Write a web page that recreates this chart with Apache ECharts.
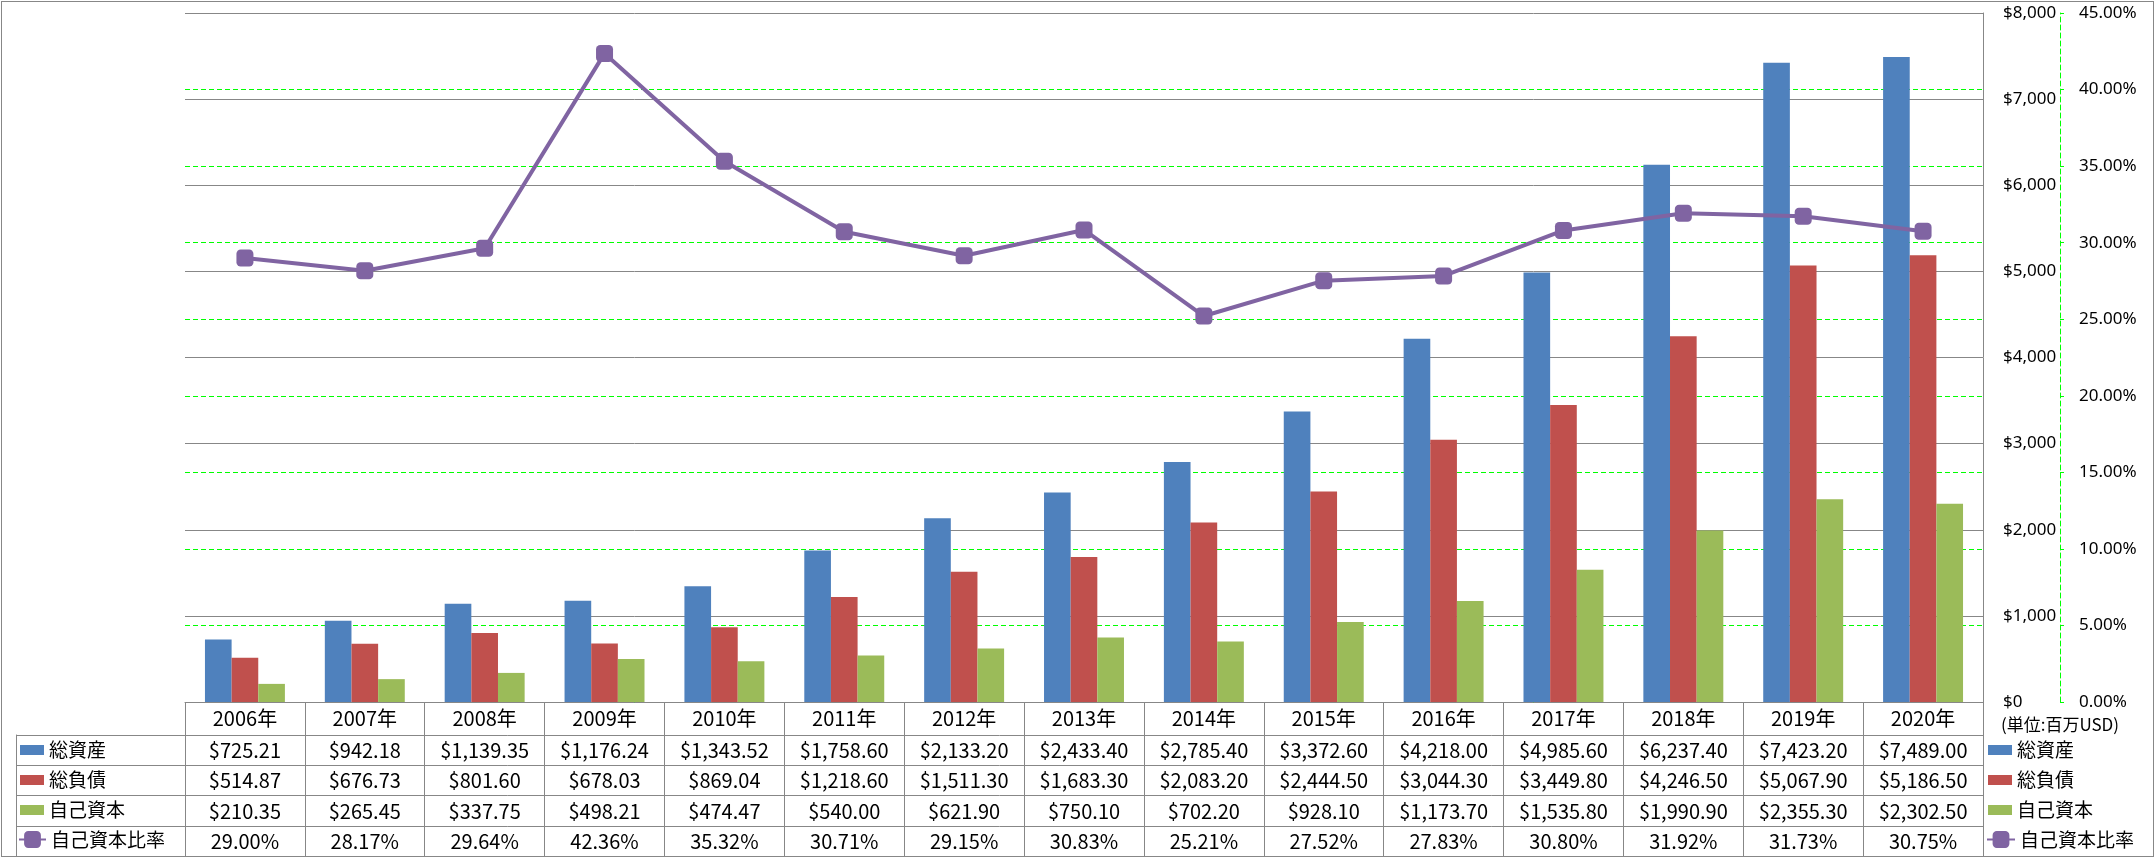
<!DOCTYPE html>
<html><head><meta charset="utf-8">
<script src="https://cdn.jsdelivr.net/npm/echarts@6/dist/echarts.min.js"></script>
<style>
html,body{margin:0;padding:0;background:#fff}
#wrap{position:relative;width:2156px;height:858px}
#main{width:2156px;height:858px}
#frame{position:absolute;left:1px;top:1px;width:2153px;height:856px;border:1px solid #878787;box-sizing:border-box;pointer-events:none}
</style>
</head><body>
<div id="wrap"><div id="main"></div><div id="frame"></div></div>
<script>
const years = ['2006年','2007年','2008年','2009年','2010年','2011年','2012年','2013年','2014年','2015年','2016年','2017年','2018年','2019年','2020年'];
const seriesNames = ['総資産','総負債','自己資本','自己資本比率'];
const totalAssets = [725.21, 942.18, 1139.35, 1176.24, 1343.52, 1758.60, 2133.20, 2433.40, 2785.40, 3372.60, 4218.00, 4985.60, 6237.40, 7423.20, 7489.00];
const totalLiabilities = [514.87, 676.73, 801.60, 678.03, 869.04, 1218.60, 1511.30, 1683.30, 2083.20, 2444.50, 3044.30, 3449.80, 4246.50, 5067.90, 5186.50];
const equity = [210.35, 265.45, 337.75, 498.21, 474.47, 540.00, 621.90, 750.10, 702.20, 928.10, 1173.70, 1535.80, 1990.90, 2355.30, 2302.50];
const equityRatio = [29.00, 28.17, 29.64, 42.36, 35.32, 30.71, 29.15, 30.83, 25.21, 27.52, 27.83, 30.80, 31.92, 31.73, 30.75];
const unitLabel = '(単位:百万USD)';

const GRAY = '#878787', GREEN = '#00ff00';
const BLUE = '#4F81BD', RED = '#C0504D', OLIVE = '#9BBB59', PURPLE = '#8064A2';
const tableFont = "'Liberation Sans Narrow','Noto Sans CJK JP',sans-serif";
const cjkFont = "'Noto Sans CJK JP',sans-serif";
const axisFont = "'Noto Sans','Noto Sans CJK JP',sans-serif";
const money = v => '$' + v.toLocaleString('en-US', {minimumFractionDigits: 2, maximumFractionDigits: 2});
const moneyAxis = v => '$' + v.toLocaleString('en-US');
const pct = v => v.toFixed(2) + '%';

function rowAxis(values, fmt, margin) {
  return {
    type: 'category', gridIndex: 0, position: 'bottom', data: years,
    axisLine: {show: false}, axisTick: {show: false}, splitLine: {show: false},
    axisLabel: {interval: 0, margin: margin, verticalAlign: 'middle', fontSize: 20,
      fontFamily: tableFont, color: '#000', formatter: (v, i) => fmt(values[i])}
  };
}

function legendBars(left) {
  return {
    orient: 'vertical', left: left, top: 740, padding: 0, itemGap: 10,
    itemWidth: 24, itemHeight: 10, icon: 'rect',
    data: seriesNames.slice(0, 3), selectedMode: false,
    textStyle: {fontSize: 19, lineHeight: 20, fontFamily: cjkFont, color: '#000'}
  };
}
function legendLine(left, w) {
  return {
    orient: 'vertical', left: left, top: 829.5, padding: 0,
    itemWidth: w, itemHeight: 21,
    data: [seriesNames[3]], selectedMode: false,
    textStyle: {fontSize: 19, lineHeight: 20, fontFamily: cjkFont, color: '#000'}
  };
}

const chart = echarts.init(document.getElementById('main'), null, {renderer: 'canvas'});
chart.setOption({
  animation: false,
  backgroundColor: '#fff',
  legend: [legendBars(20), legendLine(18, 27), legendBars(1988), legendLine(1986, 28)],
  grid: [
    {left: 185, right: 173, top: 13, bottom: 156, outerBoundsMode: 'none'},
    {left: 16, right: 173, top: 735, bottom: 2, outerBoundsMode: 'none'}
  ],
  xAxis: [
    {
      type: 'category', gridIndex: 0, position: 'bottom', data: years,
      axisLine: {show: true, lineStyle: {color: GRAY, width: 1}},
      axisTick: {show: true, interval: 0, length: 154, lineStyle: {color: GRAY, width: 1}},
      axisLabel: {interval: 0, margin: 16, verticalAlign: 'middle', fontSize: 20, fontFamily: tableFont, color: '#000'},
      splitLine: {show: false}
    },
    rowAxis(totalAssets, money, 48),
    rowAxis(totalLiabilities, money, 78.5),
    rowAxis(equity, money, 109),
    rowAxis(equityRatio, pct, 139),
    {type: 'value', gridIndex: 1, show: false}
  ],
  yAxis: [
    {
      type: 'value', gridIndex: 0, position: 'right', min: 0, max: 8000, interval: 1000,
      axisLine: {show: true, lineStyle: {color: GRAY, width: 1}},
      axisTick: {show: false},
      splitLine: {show: true, lineStyle: {color: GRAY, width: 1}},
      axisLabel: {margin: 20, fontSize: 17, fontFamily: axisFont, color: '#000', formatter: moneyAxis}
    },
    {
      type: 'value', gridIndex: 0, position: 'right', offset: 77, min: 0, max: 45, interval: 5,
      name: unitLabel, nameLocation: 'start', nameGap: 14,
      nameTextStyle: {fontSize: 17, fontFamily: cjkFont, color: '#000'},
      axisLine: {show: true, lineStyle: {color: GREEN, width: 1, type: [5, 3]}},
      axisTick: {show: true, length: 4, lineStyle: {color: GREEN, width: 1}},
      splitLine: {show: true, showMaxLine: false, lineStyle: {color: GREEN, width: 1, type: [5, 3]}},
      axisLabel: {margin: 19, fontSize: 17, fontFamily: axisFont, color: '#000', formatter: pct}
    },
    {
      type: 'category', gridIndex: 1, inverse: true, data: seriesNames,
      axisLine: {show: true, lineStyle: {color: GRAY, width: 1}},
      axisTick: {show: false}, axisLabel: {show: false},
      splitLine: {show: true, interval: 0, lineStyle: {color: GRAY, width: 1}}
    }
  ],
  series: [
    {name: seriesNames[0], type: 'bar', xAxisIndex: 0, yAxisIndex: 0, data: totalAssets,
      barGap: '0%', barCategoryGap: '33.3%', itemStyle: {color: BLUE}},
    {name: seriesNames[1], type: 'bar', xAxisIndex: 0, yAxisIndex: 0, data: totalLiabilities,
      barGap: '0%', barCategoryGap: '33.3%', itemStyle: {color: RED}},
    {name: seriesNames[2], type: 'bar', xAxisIndex: 0, yAxisIndex: 0, data: equity,
      barGap: '0%', barCategoryGap: '33.3%', itemStyle: {color: OLIVE}},
    {name: seriesNames[3], type: 'line', xAxisIndex: 0, yAxisIndex: 1, data: equityRatio,
      symbol: 'roundRect', symbolSize: 17, z: 5,
      lineStyle: {color: PURPLE, width: 4}, itemStyle: {color: PURPLE}}
  ]
});
</script>
</body></html>
